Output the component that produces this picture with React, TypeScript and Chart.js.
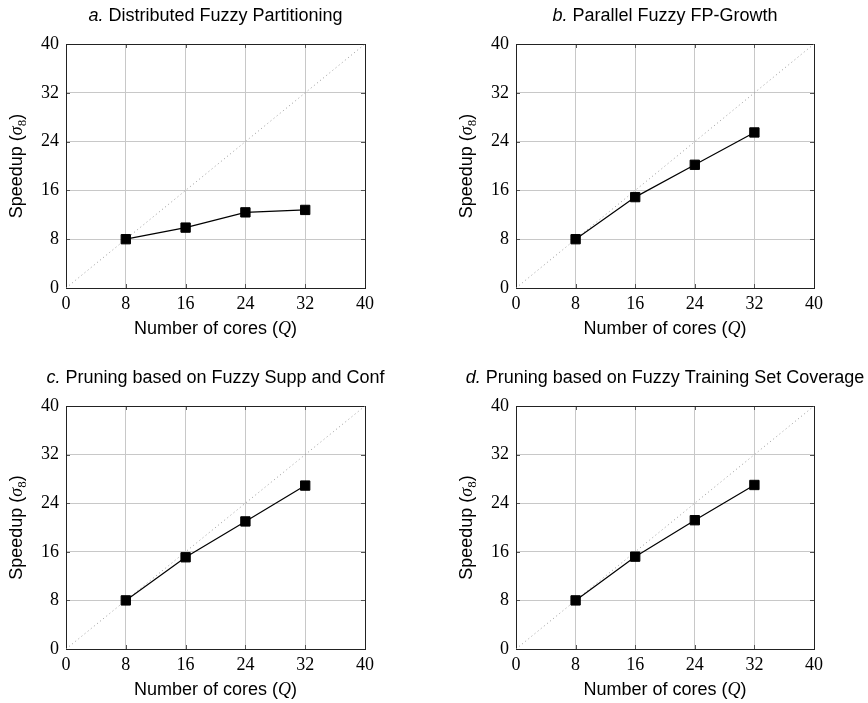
import React, { useEffect, useRef } from "react";
import { Chart, registerables } from "chart.js";

Chart.register(...registerables);

// ---- data ----
const coreCounts = [8, 16, 24, 32];
const speedupA = [8, 9.9, 12.4, 12.8];
const speedupB = [8, 14.9, 20.2, 25.5];
const speedupC = [8, 15.1, 21.0, 26.9];
const speedupD = [8, 15.2, 21.2, 27.0];
const idealX = [0, 40];
const idealY = [0, 40];
const axisMin = 0;
const axisMax = 40;
const axisStep = 8;
const panelLetters = ["a.", "b.", "c.", "d."];
const panelTitles = [
  " Distributed Fuzzy Partitioning",
  " Parallel Fuzzy FP-Growth",
  " Pruning based on Fuzzy Supp and Conf",
  " Pruning based on Fuzzy Training Set Coverage",
];
const xLabelMain = "Number of cores (";
const xLabelVar = "Q";
const yLabelMain = "Speedup (";
const yLabelVar = "σ";
const yLabelSub = "8";
const closeParen = ")";

const SANS = '"Liberation Sans", Arial, Helvetica, sans-serif';
const SERIF = '"Liberation Serif", "Times New Roman", serif';

type Seg = { text: string; font: string; dy?: number };

function drawSegs(ctx: CanvasRenderingContext2D, segs: Seg[], cx: number, y: number) {
  let total = 0;
  const widths = segs.map((s) => {
    ctx.font = s.font;
    const w = ctx.measureText(s.text).width;
    total += w;
    return w;
  });
  let x = cx - total / 2;
  ctx.textAlign = "left";
  ctx.textBaseline = "alphabetic";
  segs.forEach((s, i) => {
    ctx.font = s.font;
    ctx.fillText(s.text, x, y + (s.dy || 0));
    x += widths[i];
  });
}

type Panel = {
  series: number[];
  idx: number;
  left: number;
  top: number;
  w: number;
  h: number;
  yWidth: number;
  padRight: number;
  padTop: number;
  xHeight: number;
};

const panels: Panel[] = [
  { series: speedupA, idx: 0, left: 0, top: 0, w: 434, h: 351, yWidth: 66, padRight: 69, padTop: 44, xHeight: 63 },
  { series: speedupB, idx: 1, left: 434, top: 0, w: 434, h: 351, yWidth: 82, padRight: 54, padTop: 44, xHeight: 63 },
  { series: speedupC, idx: 2, left: 0, top: 351, w: 434, h: 352, yWidth: 66, padRight: 69, padTop: 55, xHeight: 54 },
  { series: speedupD, idx: 3, left: 434, top: 351, w: 434, h: 352, yWidth: 82, padRight: 54, padTop: 55, xHeight: 54 },
];

function PanelChart({ p }: { p: Panel }) {
  const ref = useRef<HTMLCanvasElement | null>(null);
  useEffect(() => {
    if (!ref.current) return;
    const decor = {
      id: "decor",
      beforeDatasetsDraw(chart: any) {
        const { ctx, chartArea: a, scales } = chart;
        ctx.save();
        ctx.strokeStyle = "#555";
        ctx.lineWidth = 1;
        for (let v = axisMin; v <= axisMax; v += axisStep) {
          const px = Math.round(scales.x.getPixelForValue(v)) + 0.5;
          const py = Math.round(scales.y.getPixelForValue(v)) + 0.5;
          ctx.beginPath();
          ctx.moveTo(px, a.bottom);
          ctx.lineTo(px, a.bottom - 4);
          ctx.moveTo(px, a.top);
          ctx.lineTo(px, a.top + 4);
          ctx.moveTo(a.left, py);
          ctx.lineTo(a.left + 4, py);
          ctx.moveTo(a.right, py);
          ctx.lineTo(a.right - 4, py);
          ctx.stroke();
        }
        ctx.strokeStyle = "#222";
        ctx.lineWidth = 1;
        ctx.strokeRect(Math.round(a.left) + 0.5, Math.round(a.top) + 0.5, Math.round(a.right - a.left), Math.round(a.bottom - a.top));
        ctx.restore();
      },
      afterDraw(chart: any) {
        const { ctx, chartArea: a } = chart;
        const cx = (a.left + a.right) / 2;
        const cy = (a.top + a.bottom) / 2;
        ctx.save();
        ctx.fillStyle = "#000";
        drawSegs(
          ctx,
          [
            { text: panelLetters[p.idx], font: `italic 18px ${SANS}` },
            { text: panelTitles[p.idx], font: `18px ${SANS}` },
          ],
          cx,
          a.top - 23.5
        );
        drawSegs(
          ctx,
          [
            { text: xLabelMain, font: `18px ${SANS}` },
            { text: xLabelVar, font: `italic 18px ${SERIF}` },
            { text: closeParen, font: `18px ${SANS}` },
          ],
          cx,
          a.bottom + 46
        );
        ctx.translate(a.left - 44.5, cy);
        ctx.rotate(-Math.PI / 2);
        drawSegs(
          ctx,
          [
            { text: yLabelMain, font: `18px ${SANS}` },
            { text: yLabelVar, font: `italic 18px ${SERIF}` },
            { text: yLabelSub, font: `13px ${SERIF}`, dy: 4 },
            { text: closeParen, font: `18px ${SANS}` },
          ],
          0,
          0
        );
        ctx.restore();
      },
    };

    const chart = new Chart(ref.current, {
      type: "scatter",
      data: {
        datasets: [
          {
            data: coreCounts.map((x, i) => ({ x, y: p.series[i] })),
            showLine: true,
            borderColor: "#000",
            borderWidth: 1.2,
            backgroundColor: "#000",
            pointStyle: "rect",
            pointRadius: 6.6,
            pointBorderWidth: 1,
            pointBorderColor: "#000",
            pointBackgroundColor: "#000",
          },
          {
            data: idealX.map((x, i) => ({ x, y: idealY[i] })),
            showLine: true,
            borderColor: "#999",
            borderWidth: 1,
            borderDash: [1, 3],
            pointRadius: 0,
          },
        ],
      },
      options: {
        animation: false,
        responsive: false,
        devicePixelRatio: 1,
        layout: { padding: { top: p.padTop, right: p.padRight, left: 0, bottom: 0 } },
        plugins: { legend: { display: false }, tooltip: { enabled: false }, title: { display: false } },
        scales: {
          x: {
            type: "linear",
            min: axisMin,
            max: axisMax,
            ticks: { stepSize: axisStep, color: "#000", font: { family: SERIF, size: 18 }, padding: 5, maxRotation: 0 },
            grid: { color: "#c8c8c8", lineWidth: 1, drawTicks: false },
            border: { display: false },
            afterFit: (s: any) => {
              s.height = p.xHeight;
            },
          },
          y: {
            type: "linear",
            min: axisMin,
            max: axisMax,
            ticks: { stepSize: axisStep, color: "#000", font: { family: SERIF, size: 18 }, padding: 7 },
            grid: { color: "#c8c8c8", lineWidth: 1, drawTicks: false },
            border: { display: false },
            afterFit: (s: any) => {
              s.width = p.yWidth;
            },
          },
        },
      },
      plugins: [decor],
    } as any);
    return () => chart.destroy();
  }, [p]);
  return (
    <canvas
      ref={ref}
      width={p.w}
      height={p.h}
      style={{ position: "absolute", left: p.left, top: p.top, width: p.w, height: p.h }}
    />
  );
}

export default function App() {
  return (
    <div style={{ position: "absolute", left: 0, top: 0, width: 868, height: 703, background: "#fff" }}>
      {panels.map((p) => (
        <PanelChart key={p.idx} p={p} />
      ))}
    </div>
  );
}
